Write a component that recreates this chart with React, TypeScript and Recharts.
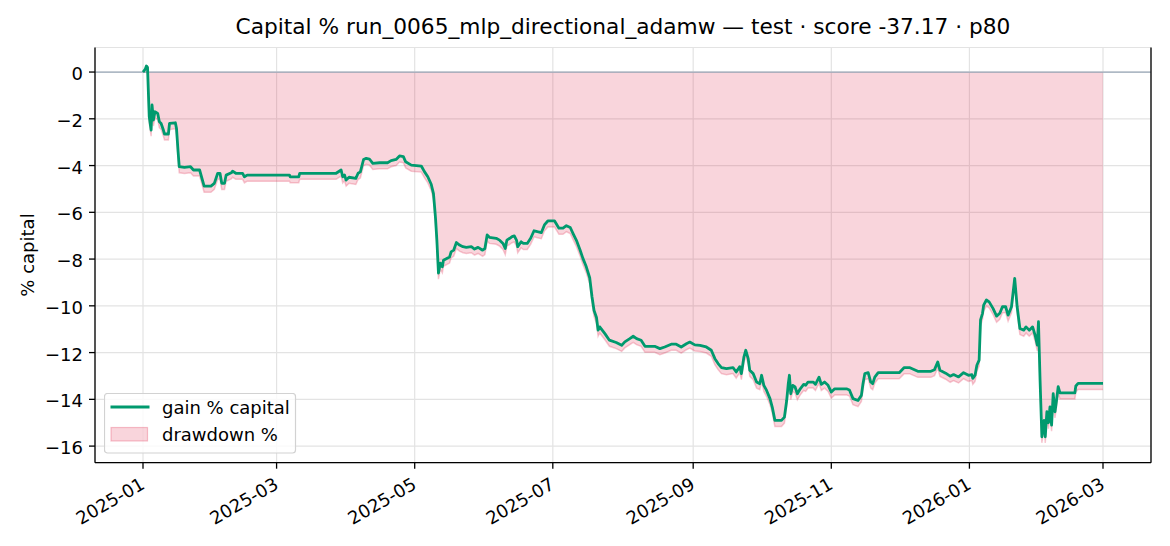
import React from 'react';
import { ComposedChart, Area, Line, XAxis, YAxis, CartesianGrid, ReferenceLine, Legend } from 'recharts';

// gain % capital (date, value)
const dates = [
  '2025-01-01', '2025-01-02', '2025-01-02T12:00', '2025-01-03T00:00', '2025-01-03T18:00', '2025-01-04T14:00',
  '2025-01-05T00:00', '2025-01-05T14:00', '2025-01-06T07:00', '2025-01-07T12:00', '2025-01-08T05:00', '2025-01-09',
  '2025-01-10', '2025-01-10T12:00', '2025-01-12T05:00', '2025-01-12T17:00', '2025-01-15T07:00', '2025-01-15T19:00',
  '2025-01-16T12:00', '2025-01-17', '2025-01-19T07:00', '2025-01-22', '2025-01-23T07:00', '2025-01-26',
  '2025-01-28', '2025-01-31', '2025-02-01T12:00', '2025-02-03', '2025-02-04', '2025-02-04T19:00',
  '2025-02-06', '2025-02-06T17:00', '2025-02-09', '2025-02-09T14:00', '2025-02-11', '2025-02-14',
  '2025-02-14T19:00', '2025-02-16', '2025-03-06T17:00', '2025-03-07', '2025-03-10T19:00', '2025-03-11T05:00',
  '2025-03-27T07:00', '2025-03-29T12:00', '2025-03-30T05:00', '2025-03-31', '2025-03-31T17:00', '2025-04-02',
  '2025-04-05', '2025-04-06', '2025-04-07', '2025-04-08T10:00', '2025-04-09T14:00', '2025-04-11',
  '2025-04-12T12:00', '2025-04-15T12:00', '2025-04-19', '2025-04-20T14:00', '2025-04-22T19:00', '2025-04-24T07:00',
  '2025-04-26', '2025-04-27', '2025-04-29T12:00', '2025-05-03T22:00', '2025-05-05T07:00', '2025-05-06T19:00',
  '2025-05-08T07:00', '2025-05-09T07:00', '2025-05-09T19:00', '2025-05-10T05:00', '2025-05-10T19:00', '2025-05-11T12:00',
  '2025-05-12T07:00', '2025-05-13T05:00', '2025-05-13T17:00', '2025-05-16T10:00', '2025-05-17T02:00', '2025-05-18T05:00',
  '2025-05-19T10:00', '2025-05-20T19:00', '2025-05-22T07:00', '2025-05-23T19:00', '2025-05-26', '2025-05-27T10:00',
  '2025-05-29', '2025-05-31', '2025-06-01', '2025-06-02', '2025-06-03', '2025-06-06',
  '2025-06-07T12:00', '2025-06-09', '2025-06-10', '2025-06-10T17:00', '2025-06-12', '2025-06-13',
  '2025-06-14', '2025-06-15', '2025-06-15T12:00', '2025-06-17', '2025-06-18', '2025-06-19T17:00',
  '2025-06-21T05:00', '2025-06-22T17:00', '2025-06-24T05:00', '2025-06-25T22:00', '2025-06-27T07:00', '2025-06-28T19:00',
  '2025-07-01T19:00', '2025-07-03T17:00', '2025-07-05T12:00', '2025-07-07', '2025-07-08T17:00', '2025-07-10',
  '2025-07-11T10:00', '2025-07-13', '2025-07-14T07:00', '2025-07-15T19:00', '2025-07-17T07:00', '2025-07-18T07:00',
  '2025-07-19T05:00', '2025-07-20T07:00', '2025-07-21', '2025-07-21T17:00', '2025-07-24', '2025-07-26',
  '2025-07-29', '2025-07-31T10:00', '2025-08-01T19:00', '2025-08-04', '2025-08-05T12:00', '2025-08-07',
  '2025-08-09', '2025-08-10T17:00', '2025-08-15', '2025-08-17T07:00', '2025-08-19T10:00', '2025-08-22T07:00',
  '2025-08-24T12:00', '2025-08-26T17:00', '2025-08-29', '2025-08-30T12:00', '2025-09-01T17:00', '2025-09-04',
  '2025-09-06T19:00', '2025-09-09', '2025-09-10T14:00', '2025-09-12', '2025-09-13T12:00', '2025-09-15T17:00',
  '2025-09-18T14:00', '2025-09-20', '2025-09-21T14:00', '2025-09-22T07:00', '2025-09-23T10:00', '2025-09-24T05:00',
  '2025-09-25T07:00', '2025-09-26', '2025-09-27T12:00', '2025-09-29', '2025-09-30T10:00', '2025-10-01T05:00',
  '2025-10-02T05:00', '2025-10-03T10:00', '2025-10-04T22:00', '2025-10-05T22:00', '2025-10-07T02:00', '2025-10-10',
  '2025-10-11T07:00', '2025-10-12T07:00', '2025-10-13', '2025-10-13T12:00', '2025-10-14T02:00', '2025-10-15',
  '2025-10-16', '2025-10-17', '2025-10-18T07:00', '2025-10-19T19:00', '2025-10-20T17:00', '2025-10-21T17:00',
  '2025-10-24', '2025-10-25', '2025-10-26T14:00', '2025-10-27T14:00', '2025-10-29', '2025-10-30T14:00',
  '2025-11-01', '2025-11-02T12:00', '2025-11-07T17:00', '2025-11-09', '2025-11-10T14:00', '2025-11-12T19:00',
  '2025-11-14T07:00', '2025-11-15', '2025-11-15T19:00', '2025-11-17T07:00', '2025-11-18T10:00', '2025-11-19T07:00',
  '2025-11-20T05:00', '2025-11-21T17:00', '2025-12-01', '2025-12-03T05:00', '2025-12-05T12:00', '2025-12-09T05:00',
  '2025-12-15', '2025-12-16T14:00', '2025-12-18', '2025-12-19', '2025-12-21T12:00', '2025-12-23T12:00',
  '2025-12-25', '2025-12-27T05:00', '2025-12-29T10:00', '2025-12-31T14:00', '2026-01-02T02:00', '2026-01-02T12:00',
  '2026-01-03T12:00', '2026-01-04T07:00', '2026-01-05T07:00', '2026-01-05T22:00', '2026-01-06T19:00', '2026-01-07T07:00',
  '2026-01-08T12:00', '2026-01-09T17:00', '2026-01-11T10:00', '2026-01-13', '2026-01-14T10:00', '2026-01-15T14:00',
  '2026-01-17', '2026-01-18T02:00', '2026-01-19T14:00', '2026-01-21', '2026-01-22T02:00', '2026-01-23T07:00',
  '2026-01-25', '2026-01-26', '2026-01-27T10:00', '2026-01-28T22:00', '2026-01-30', '2026-01-31',
  '2026-01-31T12:00', '2026-02-01T05:00', '2026-02-02', '2026-02-03', '2026-02-03T12:00', '2026-02-04T05:00',
  '2026-02-04T22:00', '2026-02-05T14:00', '2026-02-06T07:00', '2026-02-07', '2026-02-07T19:00', '2026-02-08T12:00',
  '2026-02-09T05:00', '2026-02-10', '2026-02-16T14:00', '2026-02-17', '2026-02-18', '2026-03-01',
];

const gain = [
  0.0, 0.12, 0.26, 0.2, -1.9, -2.48,
  -1.41, -2.05, -1.7, -1.77, -2.12, -2.2,
  -2.48, -2.65, -2.65, -2.2, -2.17, -2.41,
  -3.41, -4.05, -4.08, -4.05, -4.19, -4.19,
  -4.88, -4.88, -4.76, -4.33, -4.33, -4.76,
  -4.76, -4.41, -4.31, -4.24, -4.33, -4.33,
  -4.48, -4.41, -4.41, -4.48, -4.48, -4.33,
  -4.33, -4.19, -4.48, -4.4, -4.62, -4.5,
  -4.55, -4.33, -4.27, -3.74, -3.69, -3.72,
  -3.91, -3.88, -3.88, -3.79, -3.74, -3.59,
  -3.62, -3.84, -3.98, -4.02, -4.26, -4.48,
  -4.8, -5.2, -5.77, -6.27, -7.19, -8.6,
  -8.17, -8.33, -8.05, -7.91, -7.69, -7.62,
  -7.29, -7.4, -7.47, -7.5, -7.47, -7.57,
  -7.5, -7.62, -7.55, -6.97, -7.07, -7.11,
  -7.19, -7.33, -7.55, -7.19, -7.11, -7.04,
  -7.01, -7.2, -7.47, -7.26, -7.33, -7.33,
  -7.11, -6.79, -6.83, -6.87, -6.54, -6.37,
  -6.37, -6.68, -6.68, -6.57, -6.65, -6.92,
  -7.2, -7.6, -7.97, -8.33, -8.8, -9.6,
  -10.2, -10.5, -11.04, -10.9, -11.19, -11.47,
  -11.57, -11.69, -11.54, -11.4, -11.3, -11.4,
  -11.47, -11.73, -11.73, -11.83, -11.76, -11.64,
  -11.64, -11.76, -11.62, -11.55, -11.67, -11.69,
  -11.76, -11.9, -12.26, -12.47, -12.64, -12.69,
  -12.64, -12.83, -12.6, -12.9, -12.18, -11.9,
  -12.26, -12.76, -12.9, -13.26, -13.33, -12.97,
  -13.4, -13.62, -13.97, -14.33, -14.9, -14.9,
  -14.76, -14.05, -13.33, -12.97, -13.76, -13.4,
  -13.47, -13.76, -13.55, -13.36, -13.4, -13.26,
  -13.26, -13.36, -13.05, -13.36, -13.26, -13.4,
  -13.69, -13.55, -13.55, -13.6, -13.97, -14.05,
  -13.83, -13.33, -12.9, -12.86, -13.26, -13.33,
  -13.05, -12.86, -12.86, -12.64, -12.64, -12.8,
  -12.8, -12.73, -12.4, -12.76, -12.88, -13.01,
  -12.94, -13.04, -12.86, -12.97, -12.94, -13.1,
  -12.97, -12.54, -12.32, -10.6, -10.32, -9.97,
  -9.75, -9.83, -10.11, -10.44, -10.32, -10.04,
  -10.04, -10.4, -10.04, -8.83, -10.04, -10.97,
  -11.04, -10.9, -11.04, -10.9, -11.25, -11.68,
  -10.68, -13.18, -15.6, -14.9, -15.6, -14.53,
  -15.0, -14.32, -15.1, -13.76, -14.53, -14.03,
  -13.46, -13.72, -13.72, -13.43, -13.32, -13.32,
];

const xTickDates = ['2025-01-01', '2025-03-01', '2025-05-01', '2025-07-01', '2025-09-01', '2025-11-01', '2026-01-01', '2026-03-01'];
const xTickLabels = ['2025-01', '2025-03', '2025-05', '2025-07', '2025-09', '2025-11', '2026-01', '2026-03'];
const yTicks = [0, -2, -4, -6, -8, -10, -12, -14, -16];

const TITLE = 'Capital % run_0065_mlp_directional_adamw \u2014 test \u00b7 score -37.17 \u00b7 p80';
const FONT = '"DejaVu Sans", Verdana, sans-serif';
const GREEN = '#009a6e';
const PINK = 'crimson';

const toTs = (s: string) => Date.parse(s.length === 10 ? s + 'T00:00:00Z' : s + ':00Z');

let peak = -Infinity;
const data = dates.map((d, i) => {
  peak = Math.max(peak, gain[i]);
  return { t: toTs(d), gain: gain[i], dd: gain[i] - peak };
});

const xTicks = xTickDates.map(toTs);
const t0 = data[0].t;
const t1 = data[data.length - 1].t;
const pad = (t1 - t0) * 0.05;
const xDomain = [t0 - pad, t1 + pad];
const yDomain = [-16.71, 1.05];

function DateTick({ x, y, payload }: any) {
  const label = xTickLabels[xTicks.indexOf(payload.value)];
  const ax = x + 3;
  const ay = y + 13;
  return (
    <text x={ax} y={ay} transform={`rotate(-30 ${ax} ${ay})`} textAnchor="end"
      fontSize={18} fontFamily={FONT} fill="#000">{label}</text>
  );
}

function ValueTick({ x, y, payload }: any) {
  const v = payload.value;
  const label = v < 0 ? `\u2212${-v}` : `${v}`;
  return (
    <text x={x} y={y + 8} textAnchor="end" fontSize={18} fontFamily={FONT} fill="#000">{label}</text>
  );
}

// title and y label drawn from the y axis label slot
function AxisTexts() {
  return (
    <g>
      <text x={623} y={34} textAnchor="middle" fontSize={21.7} fontFamily={FONT} fill="#000">{TITLE}</text>
      <text x={34} y={255} transform="rotate(-90 34 255)" textAnchor="middle"
        fontSize={18} fontFamily={FONT} fill="#000">% capital</text>
    </g>
  );
}

function LegendBox() {
  return (
    <svg width={193} height={61} style={{ display: 'block' }}>
      <rect x={0.5} y={0.5} width={191} height={59.5} rx={3} fill="#fff" fillOpacity={0.8} stroke="#d2d2d2" strokeWidth={1.2} />
      <line x1={6.5} x2={45.5} y1={14} y2={14} stroke={GREEN} strokeWidth={2.8} />
      <text x={58} y={20.5} fontSize={18} fontFamily={FONT} fill="#000">gain % capital</text>
      <rect x={7} y={34.5} width={36.5} height={13.5} fill={PINK} fillOpacity={0.18} stroke={PINK} strokeOpacity={0.25} strokeWidth={1.2} />
      <text x={58} y={47.8} fontSize={18} fontFamily={FONT} fill="#000">drawdown %</text>
    </svg>
  );
}

export default function App() {
  return (
    <div style={{ position: 'absolute', left: 0, top: 0, width: 1170, height: 546, background: '#fff' }}>
      <ComposedChart width={1170} height={546} data={data} margin={{ top: 47.5, right: 19, bottom: 0, left: 0 }}>
        <CartesianGrid stroke="#e3e3e3" strokeWidth={1.2} />
        <XAxis dataKey="t" type="number" domain={xDomain} ticks={xTicks} allowDataOverflow
          height={83.3} tick={<DateTick />} tickSize={6} tickMargin={6}
          axisLine={{ stroke: '#000', strokeWidth: 1.3 }} tickLine={{ stroke: '#000', strokeWidth: 1.3 }} />
        <XAxis xAxisId="top" dataKey="t" type="number" orientation="top" domain={xDomain} allowDataOverflow
          height={0} tick={false} tickLine={false} axisLine={{ stroke: '#000', strokeWidth: 1.3 }} />
        <YAxis type="number" domain={yDomain} ticks={yTicks} allowDataOverflow width={95}
          tick={<ValueTick />} tickSize={6} tickMargin={6}
          axisLine={{ stroke: '#000', strokeWidth: 1.3 }} tickLine={{ stroke: '#000', strokeWidth: 1.3 }}
          label={AxisTexts} />
        <Area type="linear" dataKey="dd" baseValue={0} fill={PINK} fillOpacity={0.18}
          stroke={PINK} strokeOpacity={0.22} strokeWidth={1.5} isAnimationActive={false} />
        <ReferenceLine y={0} stroke="#9aa8b8" strokeWidth={1.3} />
        <Line type="linear" dataKey="gain" stroke={GREEN} strokeWidth={2.8} dot={false}
          strokeLinejoin="round" isAnimationActive={false} />
        <ReferenceLine x={xDomain[1]} stroke="#000" strokeWidth={1.3} />
        <Legend content={<LegendBox />} layout="horizontal" verticalAlign="middle" align="center"
          wrapperStyle={{ left: 103.5, top: 392.5, width: 193, height: 61 }} />
      </ComposedChart>
    </div>
  );
}
